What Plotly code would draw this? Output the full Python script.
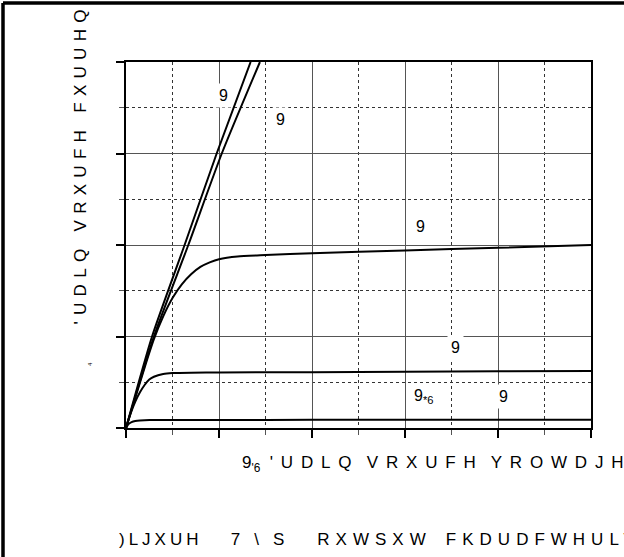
import plotly.graph_objects as go

# ---- data (arbitrary units: x 0..5, y 0..4) ----
c1_x = [0, 0.03, 0.06, 0.1, 0.15, 0.2, 0.3, 0.5, 1.0, 2.0, 3.0, 4.0, 5.0]
c1_y = [0, 0.045, 0.065, 0.077, 0.083, 0.085, 0.087, 0.088, 0.088, 0.089, 0.089, 0.09, 0.09]

c2_x = [0, 0.05, 0.1, 0.15, 0.2, 0.25, 0.3, 0.4, 0.5, 0.7, 1.0, 2.0, 3.0, 4.0, 5.0]
c2_y = [0, 0.16, 0.29, 0.39, 0.47, 0.53, 0.56, 0.59, 0.60, 0.605, 0.607, 0.61, 0.615, 0.62, 0.623]

c3_x = [0, 0.1, 0.2, 0.3, 0.4, 0.5, 0.6, 0.7, 0.8, 0.9, 1.0, 1.2, 1.5, 2.0, 3.0, 4.0, 5.0]
c3_y = [0, 0.33, 0.66, 0.97, 1.22, 1.42, 1.57, 1.68, 1.76, 1.81, 1.845, 1.875, 1.89, 1.91, 1.94, 1.97, 2.0]

c4_x = [0, 0.28, 0.63, 0.975, 1.34]
c4_y = [0, 1.0, 2.0, 3.0, 4.0]

c5_x = [0, 0.30, 0.67, 1.03, 1.44]
c5_y = [0, 1.0, 2.0, 3.0, 4.0]

label_x = [1.05, 1.66, 3.17, 3.54, 4.06]
label_y = [3.63, 3.37, 2.20, 0.885, 0.34]
label_t = ["9", "9", "9", "9", "9"]

vgs_x, vgs_y, vgs_t = 3.2, 0.34, "9<sub>*6</sub>"

x_title = "9<sub>'6</sub>"
x_title2 = "'UDLQ VRXUFH YROWDJH"
y_title = "'UDLQ VRXUFH FXUUHQ"
caption_a = ")LJXUH"
caption_b = "7\\S"
caption_c = "RXWSXW"
caption_d = "FKDUDFWHULVWLFV"

FONT = "Arial, Liberation Sans, sans-serif"

fig = go.Figure()
for xs, ys in [(c1_x, c1_y), (c2_x, c2_y), (c3_x, c3_y), (c4_x, c4_y), (c5_x, c5_y)]:
    fig.add_trace(go.Scatter(x=xs, y=ys, mode="lines",
                             line=dict(color="black", width=2, shape="spline", smoothing=0.6),
                             showlegend=False, hoverinfo="skip"))

ax_common = dict(showline=True, linecolor="black", linewidth=2, mirror=True,
                 ticks="outside", ticklen=8, tickwidth=1.5, tickcolor="black",
                 showticklabels=False, showgrid=True, gridcolor="#555555", gridwidth=1.4,
                 zeroline=False,
                 minor=dict(dtick=0.5, showgrid=True, griddash="dot", gridcolor="#333333", gridwidth=1,
                            ticks="outside", ticklen=5, tickcolor="#555555", tickwidth=1))

fig.update_xaxes(range=[0, 5], dtick=1, tick0=0, **ax_common)
fig.update_yaxes(range=[0, 4], dtick=1, tick0=0, **ax_common)

anns = []
for lx, ly, lt in zip(label_x, label_y, label_t):
    anns.append(dict(x=lx, y=ly, xref="x", yref="y", text=lt, showarrow=False,
                     font=dict(family=FONT, size=16, color="black"), bgcolor="white", borderpad=3))
anns.append(dict(x=vgs_x, y=vgs_y, xref="x", yref="y", text=vgs_t, showarrow=False,
                 font=dict(family=FONT, size=16, color="black"), bgcolor="white", borderpad=3))


def sp(t, s, w=0.0):
    return '<span style="letter-spacing:%.1fpx;word-spacing:%.1fpx">%s</span>' % (s, w, t)


anns.append(dict(x=(240 - 126) / 465, y=(428 - 464) / 366, xref="paper", yref="paper",
                 xanchor="left", yanchor="middle", showarrow=False,
                 text=x_title + "&nbsp; " + sp(x_title2, 7.8, -5.0),
                 font=dict(family=FONT, size=17, color="black")))
anns.append(dict(x=(80 - 126) / 465, y=(428 - 327) / 366, xref="paper", yref="paper",
                 xanchor="center", yanchor="bottom", textangle=-90, showarrow=False,
                 text=sp(y_title, 6.3), font=dict(family=FONT, size=17, color="black")))
anns.append(dict(x=(117 - 126) / 465, y=(428 - 539) / 366, xref="paper", yref="paper",
                 xanchor="left", yanchor="middle", showarrow=False,
                 text=sp(caption_a, 4.0) + "&nbsp;&nbsp;&nbsp;&nbsp;&nbsp; " + sp(caption_b, 14.0)
                 + "&nbsp;&nbsp;&nbsp; " + sp(caption_c, 6.0) + "&nbsp;&nbsp; " + sp(caption_d, 6.0),
                 font=dict(family=FONT, size=17, color="black")))
anns.append(dict(x=(85 - 126) / 465, y=(428 - 368) / 366, xref="paper", yref="paper",
                 showarrow=False, text="4", textangle=-90, font=dict(family=FONT, size=6, color="black")))

shapes = [
    dict(type="line", xref="paper", yref="paper", x0=(3 - 126) / 465, x1=(624 - 126) / 465,
         y0=(428 - 3) / 366, y1=(428 - 3) / 366, line=dict(color="black", width=3.5)),
    dict(type="line", xref="paper", yref="paper", x0=(3 - 126) / 465, x1=(3 - 126) / 465,
         y0=(428 - 3) / 366, y1=(428 - 557) / 366, line=dict(color="black", width=3.5)),
]

fig.update_layout(width=624, height=557, margin=dict(l=126, r=33, t=62, b=129),
                  paper_bgcolor="white", plot_bgcolor="white",
                  annotations=anns, shapes=shapes, showlegend=False)

fig.write_html("out.html", config={"displayModeBar": False},
               post_script="document.body.style.margin='0';document.body.style.overflow='hidden';")
